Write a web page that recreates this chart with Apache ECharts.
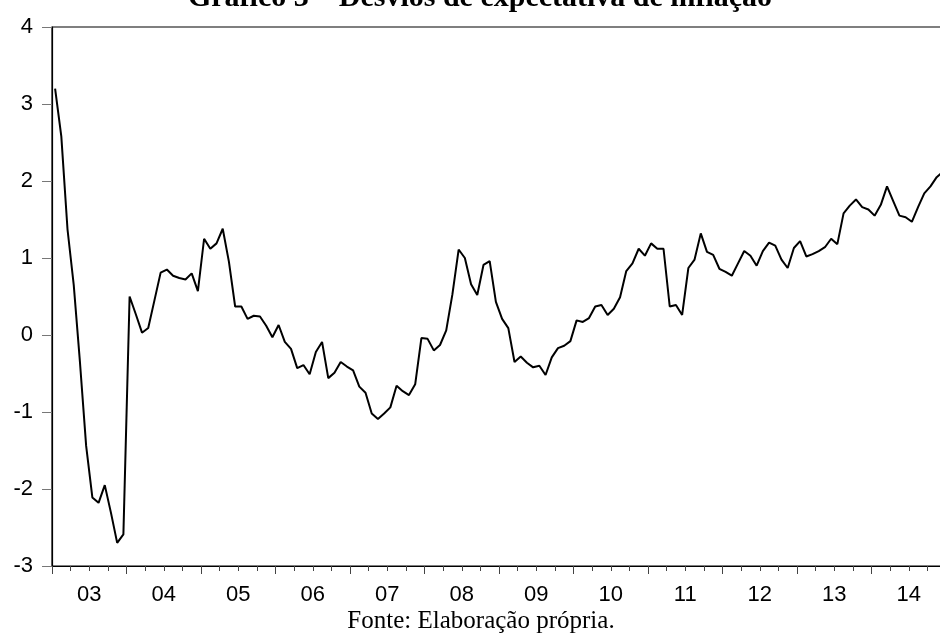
<!DOCTYPE html>
<html>
<head>
<meta charset="utf-8">
<script src="https://cdn.jsdelivr.net/npm/echarts@6/dist/echarts.min.js"></script>
<style>
html,body{margin:0;padding:0;background:#fff;overflow:hidden;width:940px;height:642px;}
#chart{width:946px;height:642px;}
</style>
</head>
<body>
<div id="chart"></div>
<script>
const titleText = "Gráfico 3 – Desvios de expectativa de inflação";
const sourceText = "Fonte: Elaboração própria.";
const yearLabels = ["03","04","05","06","07","08","09","10","11","12","13","14"];
const yTicks = [-3,-2,-1,0,1,2,3,4];

const v2003 = [3.20, 2.58, 1.37, 0.65, -0.35, -1.44, -2.11, -2.18, -1.95, -2.31, -2.70, -2.59];
const v2004 = [0.50, 0.27, 0.03, 0.09, 0.45, 0.81, 0.85, 0.77, 0.74, 0.72, 0.80, 0.57];
const v2005 = [1.25, 1.12, 1.19, 1.38, 0.95, 0.37, 0.37, 0.21, 0.25, 0.24, 0.12, -0.03];
const v2006 = [0.13, -0.09, -0.18, -0.43, -0.39, -0.51, -0.22, -0.09, -0.56, -0.49, -0.35, -0.41];
const v2007 = [-0.46, -0.67, -0.75, -1.02, -1.09, -1.02, -0.94, -0.66, -0.73, -0.78, -0.64, -0.04];
const v2008 = [-0.05, -0.20, -0.13, 0.06, 0.53, 1.11, 1.00, 0.66, 0.52, 0.91, 0.96, 0.43];
const v2009 = [0.21, 0.09, -0.35, -0.28, -0.36, -0.42, -0.40, -0.52, -0.29, -0.17, -0.14, -0.08];
const v2010 = [0.19, 0.17, 0.22, 0.37, 0.39, 0.26, 0.34, 0.49, 0.83, 0.93, 1.12, 1.03];
const v2011 = [1.19, 1.12, 1.12, 0.37, 0.39, 0.26, 0.87, 0.98, 1.32, 1.08, 1.04, 0.86];
const v2012 = [0.82, 0.77, 0.93, 1.09, 1.03, 0.90, 1.09, 1.20, 1.16, 0.98, 0.87, 1.13];
const v2013 = [1.22, 1.02, 1.05, 1.09, 1.14, 1.25, 1.18, 1.58, 1.68, 1.76, 1.66, 1.63];
const v2014 = [1.55, 1.69, 1.93, 1.74, 1.55, 1.53, 1.47, 1.66, 1.84, 1.93, 2.05, 2.12];

const values = [].concat(v2003, v2004, v2005, v2006, v2007, v2008, v2009, v2010, v2011, v2012, v2013, v2014);
const months = [];
yearLabels.forEach(function (y) {
  for (let m = 1; m <= 12; m++) months.push(y + "-" + (m < 10 ? "0" + m : m));
});

const chart = echarts.init(document.getElementById('chart'), null, {renderer: 'canvas'});
const sans = '"Liberation Sans", Arial, sans-serif';
const serif = '"Liberation Serif", "Times New Roman", serif';

chart.setOption({
  animation: false,
  backgroundColor: '#fff',
  grid: {
    left: 52, top: 27, right: 0, bottom: 76,
    show: true, borderColor: '#000', borderWidth: 1.2, backgroundColor: 'transparent',
    containLabel: false
  },
  graphic: [
    {type: 'text', x: 480, y: -2, silent: true,
     style: {text: titleText, font: 'bold 30px ' + serif, fill: '#000', align: 'center', verticalAlign: 'middle'}},
    {type: 'text', x: 481, y: 621, silent: true,
     style: {text: sourceText, font: '25px ' + serif, fill: '#000', align: 'center', verticalAlign: 'middle'}}
  ],
  xAxis: [
    {
      type: 'category', data: months, boundaryGap: true, position: 'bottom',
      axisLine: {show: true, onZero: false, lineStyle: {color: '#000', width: 1.2}},
      axisTick: {show: true, length: 5, interval: function (i) { return i % 3 === 0; },
                 lineStyle: {color: '#444', width: 1}},
      axisLabel: {show: false},
      splitLine: {show: false}
    },
    {
      type: 'category', data: yearLabels, boundaryGap: true, position: 'bottom',
      axisLine: {show: false, onZero: false},
      axisTick: {show: true, length: 8, alignWithLabel: false, lineStyle: {color: '#444', width: 1}},
      axisLabel: {show: true, interval: 0, margin: 18, color: '#000', fontFamily: sans, fontSize: 22},
      splitLine: {show: false}
    }
  ],
  yAxis: {
    type: 'value', min: -3, max: 4, interval: 1,
    axisLine: {show: true, lineStyle: {color: '#000', width: 1.2}},
    axisTick: {show: true, length: 10, lineStyle: {color: '#777', width: 1}},
    axisLabel: {margin: 19, color: '#000', fontFamily: sans, fontSize: 22,
                formatter: function (v) { return yTicks.indexOf(v) >= 0 ? String(v) : ''; }},
    splitLine: {show: false}
  },
  series: [{
    type: 'line', data: values, xAxisIndex: 0, yAxisIndex: 0,
    showSymbol: false, symbol: 'none', smooth: false,
    lineStyle: {color: '#000', width: 2},
    clip: true
  }]
});
</script>
</body>
</html>
